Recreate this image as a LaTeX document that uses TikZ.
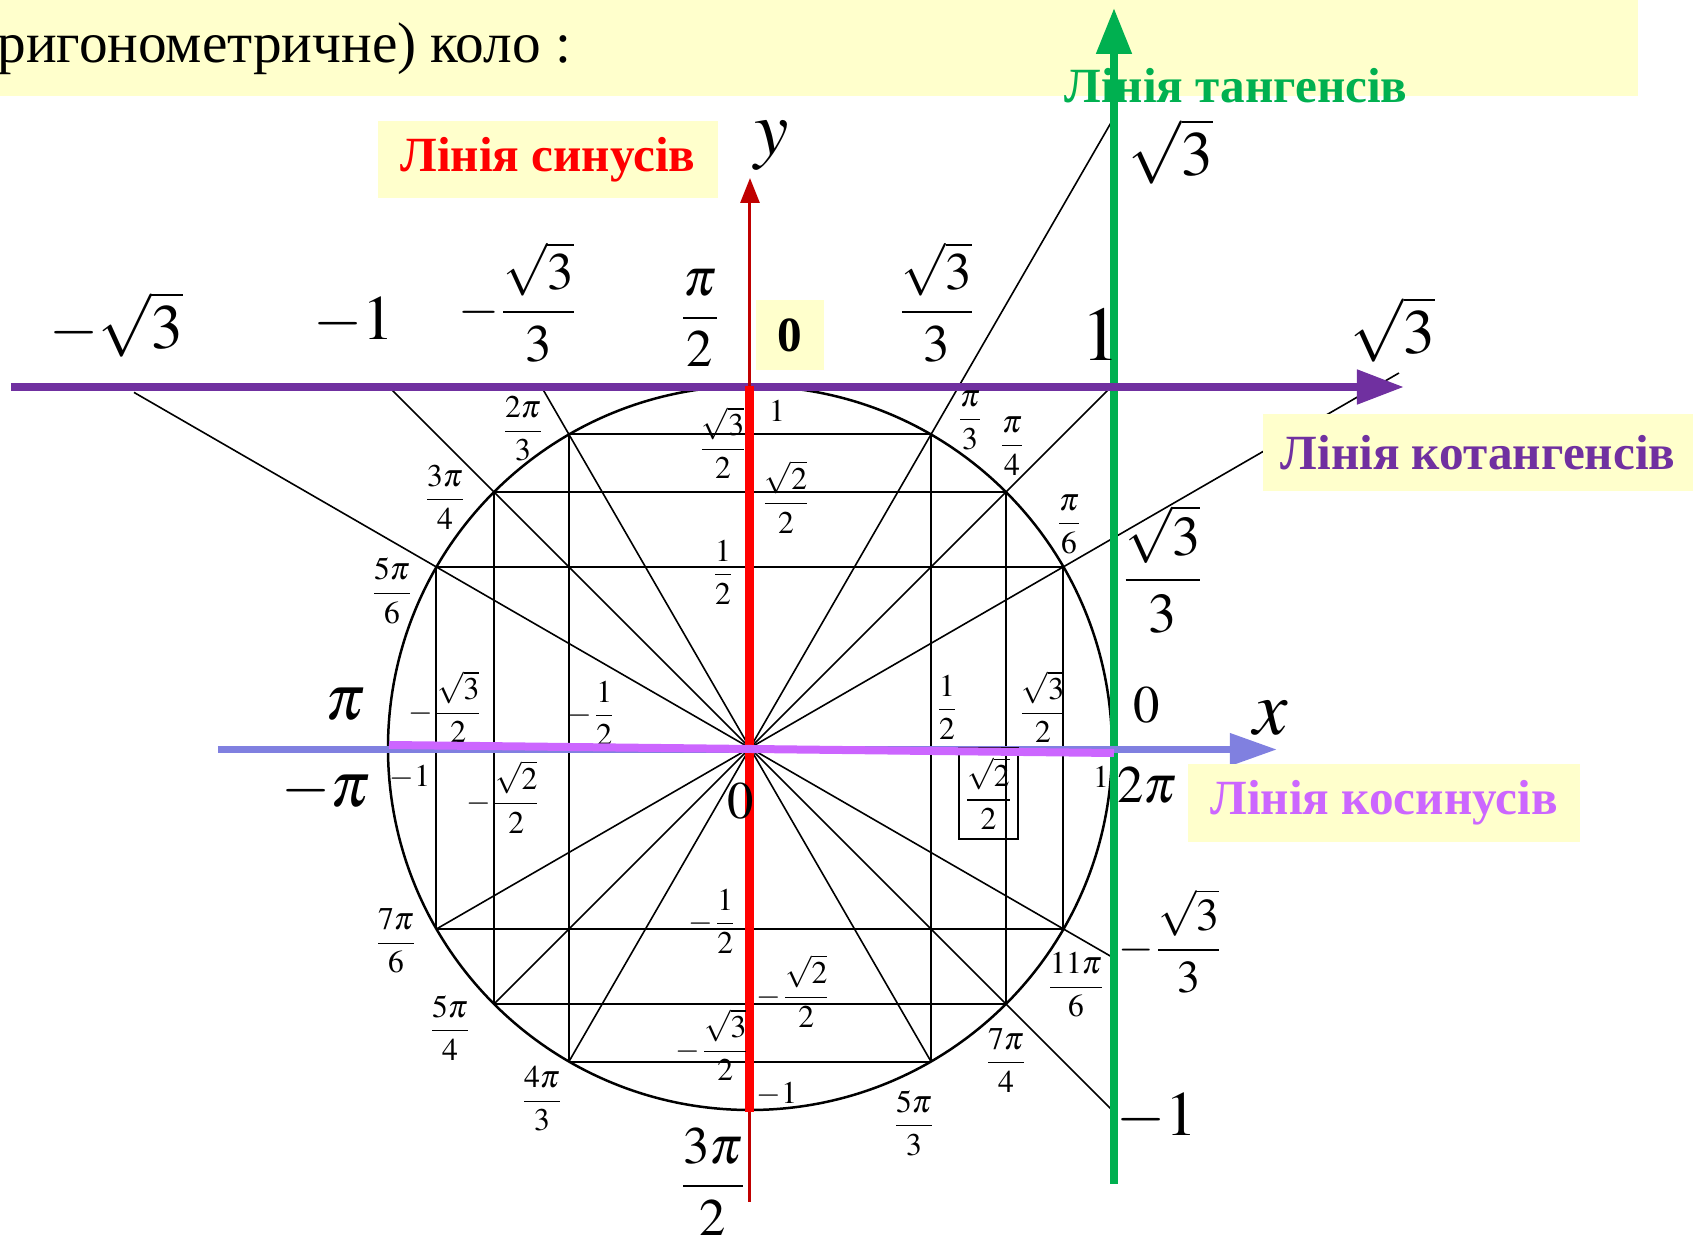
\documentclass[tikz,border=0pt]{standalone}
\usepackage{amsmath}
\usepackage{mathptmx}
\usepackage[no-math]{fontspec}
\setmainfont{Liberation Serif}
\usepackage{tikz}
\usetikzlibrary{arrows.meta}

\definecolor{sinred}{RGB}{192,0,0}
\definecolor{tangreen}{RGB}{0,176,80}
\definecolor{cotpurple}{RGB}{112,48,160}
\definecolor{axisblue}{RGB}{128,128,224}
\definecolor{cosviolet}{RGB}{204,102,255}
\definecolor{boxyellow}{RGB}{255,255,204}

\begin{document}
\begin{tikzpicture}[
    lbl/.style={inner sep=0pt, font=\fontsize{9}{10}\selectfont},
    mid/.style={inner sep=0pt, font=\fontsize{15}{17}\selectfont},
    big/.style={inner sep=0pt, font=\fontsize{18}{20}\selectfont},
    huge/.style={inner sep=0pt, font=\fontsize{22}{24}\selectfont},
    tag/.style={fill=boxyellow, inner sep=0pt, font=\bfseries\fontsize{14}{16}\selectfont},
    chord/.style={line width=0.2mm},
    ray/.style={line width=0.16mm}]

    \useasboundingbox (-7.50,-4.87) rectangle (9.43,7.48);

    % banner
    \fill[boxyellow] (-7.50,6.52) rectangle (8.88,7.48);
    \node[anchor=base west, inner sep=0pt, font=\fontsize{16.3}{18}\selectfont] (title) at (-7.53,6.85) {ригонометричне) коло :};

    % unit circle
    \coordinate (O) at (0,0);
    \draw[line width=0.25mm] (O) circle (3.62);

    % horizontal chords
    \draw[chord] (60:3.62) -- (120:3.62);
    \draw[chord] (45:3.62) -- (135:3.62);
    \draw[chord] (30:3.62) -- (150:3.62);
    \draw[chord] (210:3.62) -- (330:3.62);
    \draw[chord] (225:3.62) -- (315:3.62);
    \draw[chord] (240:3.62) -- (300:3.62);
    % vertical chords
    \draw[chord] (30:3.62) -- (-30:3.62);
    \draw[chord] (45:3.62) -- (-45:3.62);
    \draw[chord] (60:3.62) -- (-60:3.62);
    \draw[chord] (120:3.62) -- (240:3.62);
    \draw[chord] (135:3.62) -- (225:3.62);
    \draw[chord] (150:3.62) -- (210:3.62);

    % rays through the centre
    \draw[ray] (240:3.62) -- (3.62,6.27);
    \draw[ray] (225:3.62) -- (3.62,3.62);
    \draw[ray] (210:3.62) -- (6.49,3.75);
    \draw[ray] (300:3.62) -- (-2.09,3.62);
    \draw[ray] (-3.62,3.62) -- (3.62,-3.62);
    \draw[ray] (-6.16,3.556) -- (3.62,-2.09);

    % lines of tan, cot, sin, cos
    \draw[tangreen, line width=0.8mm, -{Triangle[length=4.6mm,width=3.4mm]}] (3.64,-4.36) -- (3.64,7.40);
    \draw[cotpurple, line width=0.8mm, -{Triangle[length=4.7mm,width=3.3mm]}] (-7.39,3.61) -- (6.54,3.61);
    \draw[axisblue, line width=0.7mm, -{Triangle[length=4.7mm,width=3.1mm]}] (-5.32,-0.015) -- (5.27,-0.015);
    \draw[sinred, line width=0.3mm, -{Triangle[length=2.5mm,width=1.9mm]}] (0,-4.54) -- (0,5.70);
    \draw[red, line width=0.9mm] (0,3.62) -- (0,-3.64);

    % values on the cotangent line
    \node[big] (cm3) at (-6.34,4.24) {$-\sqrt{3}$};
    \node[big] (cm1) at (-3.96,4.27) {$-1$};
    \node[mid] (cm33) at (-2.32,4.46) {$-\dfrac{\sqrt{3}}{3}$};
    \node[mid] (pi2) at (-0.50,4.30) {$\dfrac{\pi}{2}$};
    \node[tag, minimum width=0.68cm, minimum height=0.70cm] (czero) at (0.40,4.13) {0};
    \node[mid] (c33) at (1.87,4.46) {$\dfrac{\sqrt{3}}{3}$};
    \node[huge] (c1) at (3.51,4.13) {$1$};
    \node[big] (c3) at (6.43,4.19) {$\sqrt{3}$};

    % values on the tangent line
    \node[big] (t3) at (4.21,5.97) {$\sqrt{3}$};
    \node[inner sep=0pt, font=\fontsize{16}{18}\selectfont] (t33) at (4.13,1.79) {$\dfrac{\sqrt{3}}{3}$};
    \node[mid] (t0) at (3.97,0.43) {$0$};
    \node[mid] (t2pi) at (3.97,-0.37) {$2\pi$};
    \node[inner sep=0pt, font=\fontsize{13}{15}\selectfont] (tm33) at (4.21,-1.93) {$-\dfrac{\sqrt{3}}{3}$};
    \node[big] (tm1) at (4.07,-3.69) {$-1$};

    % axes
    \node[huge] (xlbl) at (5.21,0.30) {$x$};
    \node[huge] (ylbl) at (0.22,6.02) {$y$};
    \node[big] (pi) at (-4.05,0.44) {$\pi$};
    \node[big] (mpi) at (-4.24,-0.43) {$-\pi$};
    \node[mid] (zero) at (-0.09,-0.53) {$0$};
    \node[mid] (pi32) at (-0.37,-4.34) {$\dfrac{3\pi}{2}$};

    % sine values
    \node[lbl] (s1) at (0.27,3.37) {$1$};
    \node[lbl] (s32) at (-0.27,3.05) {$\dfrac{\sqrt{3}}{2}$};
    \node[lbl] (s22) at (0.36,2.51) {$\dfrac{\sqrt{2}}{2}$};
    \node[lbl] (s12) at (-0.27,1.76) {$\dfrac{1}{2}$};
    \node[lbl] (sm12) at (-0.37,-1.73) {$-\dfrac{1}{2}$};
    \node[lbl] (sm22) at (0.44,-2.43) {$-\dfrac{\sqrt{2}}{2}$};
    \node[lbl] (sm32) at (-0.37,-2.97) {$-\dfrac{\sqrt{3}}{2}$};
    \node[lbl] (sm1) at (0.27,-3.46) {$-1$};

    % cosine values
    \node[lbl] (cm32) at (-3.04,0.41) {$-\dfrac{\sqrt{3}}{2}$};
    \node[lbl] (cm12) at (-1.58,0.35) {$-\dfrac{1}{2}$};
    \node[lbl] (cp12) at (1.97,0.41) {$\dfrac{1}{2}$};
    \node[lbl] (cp32) at (2.93,0.41) {$\dfrac{\sqrt{3}}{2}$};
    \node[lbl] (cmone) at (-3.40,-0.29) {$-1$};
    \node[lbl] (cm22) at (-2.46,-0.49) {$-\dfrac{\sqrt{2}}{2}$};
    \node[lbl, draw, line width=0.25mm, minimum width=0.59cm, minimum height=0.91cm] (cp22) at (2.385,-0.455) {$\dfrac{\sqrt{2}}{2}$};
    \node[lbl] (cpone) at (3.51,-0.29) {$1$};

    % angles
    \node[lbl] (a60) at (2.20,3.28) {$\dfrac{\pi}{3}$};
    \node[lbl] (a45) at (2.62,3.02) {$\dfrac{\pi}{4}$};
    \node[lbl] (a30) at (3.19,2.24) {$\dfrac{\pi}{6}$};
    \node[lbl] (a120) at (-2.27,3.19) {$\dfrac{2\pi}{3}$};
    \node[lbl] (a135) at (-3.05,2.51) {$\dfrac{3\pi}{4}$};
    \node[lbl] (a150) at (-3.58,1.57) {$\dfrac{5\pi}{6}$};
    \node[lbl] (a210) at (-3.54,-1.93) {$\dfrac{7\pi}{6}$};
    \node[lbl] (a225) at (-3.00,-2.80) {$\dfrac{5\pi}{4}$};
    \node[lbl] (a240) at (-2.08,-3.51) {$\dfrac{4\pi}{3}$};
    \node[lbl] (a300) at (1.64,-3.75) {$\dfrac{5\pi}{3}$};
    \node[lbl] (a315) at (2.56,-3.12) {$\dfrac{7\pi}{4}$};
    \node[lbl] (a330) at (3.26,-2.37) {$\dfrac{11\pi}{6}$};

    % cosine line on top
    \draw[cosviolet, line width=0.8mm] (-3.61,0.03) -- (3.64,-0.05);

    % names of the lines
    \node[tag, text=red, minimum width=3.40cm, minimum height=0.77cm] (sinlbl) at (-2.02,5.885) {Лінія синусів};
    \node[tag, text=cotpurple, minimum width=4.30cm, minimum height=0.77cm] (cotlbl) at (7.28,2.955) {Лінія котангенсів};
    \node[tag, text=cosviolet, minimum width=3.92cm, minimum height=0.78cm] (coslbl) at (6.34,-0.55) {Лінія косинусів};
    \node[inner sep=0pt, text=tangreen, font=\bfseries\fontsize{14}{16}\selectfont] (tanlbl) at (4.86,6.62) {Лінія тангенсів};
\end{tikzpicture}
\end{document}
